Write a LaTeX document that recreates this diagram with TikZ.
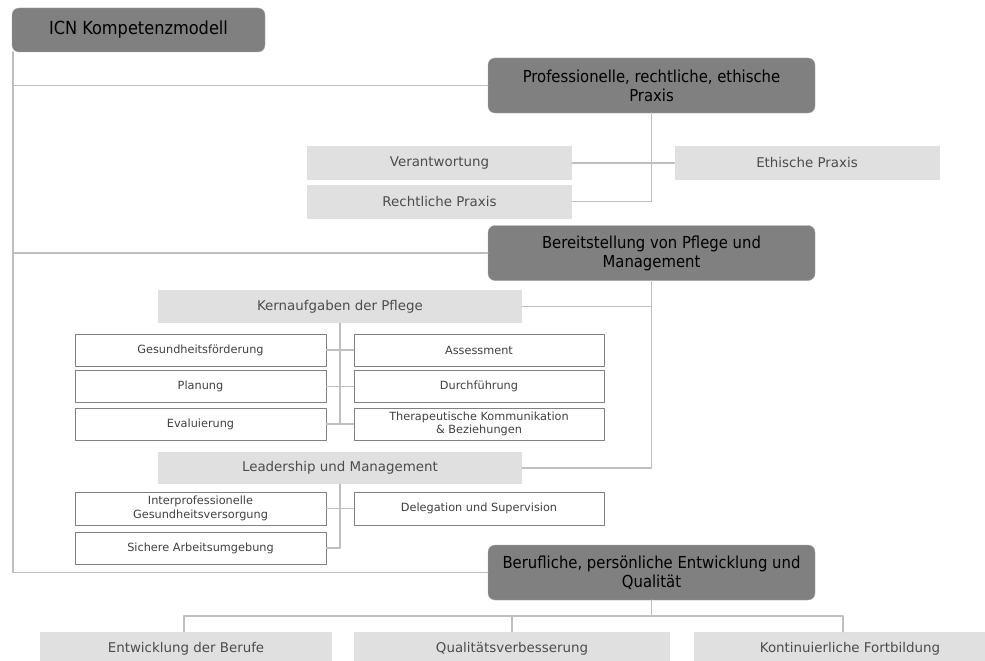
\documentclass[tikz,border=0pt]{standalone}
\usepackage{fontspec}
\setmainfont{DejaVu Sans}
\newfontfamily\condfont{DejaVu Sans Condensed}
\usetikzlibrary{positioning}

\tikzset{
  darkbox/.style={draw=black!35, fill=black!50, rounded corners=7pt, text=black,
    align=center, inner sep=2pt, minimum width=327pt, minimum height=55pt,
    font=\condfont\fontsize{16.5}{19}\selectfont},
  lightbox/.style={fill=black!12, text=black!70, inner sep=1pt,
    minimum width=265pt, minimum height=34pt, font=\fontsize{13.4}{15}\selectfont},
  whitebox/.style={draw=black!50, fill=white, text=black!75, align=center,
    inner sep=1pt, line width=0.9pt, minimum width=251pt, minimum height=32pt,
    font=\fontsize{11.3}{13.5}\selectfont},
  link/.style={draw=black!25, line width=1.6pt}
}

\begin{document}
\begin{tikzpicture}[x=1pt, y=-1pt, line cap=round, line join=round]
  \useasboundingbox (0,0) rectangle (985,661);

  % main branches
  \node[darkbox, minimum width=253pt, minimum height=44pt,
    font=\condfont\fontsize{18}{20}\selectfont] (icn) at (138.5,30) {ICN Kompetenzmodell};
  \node[darkbox] (prof) at (651.5,85.5) {Professionelle, rechtliche, ethische\\Praxis};
  \node[darkbox] (bereit) at (651.5,253) {Bereitstellung von Pflege und\\Management};
  \node[darkbox] (beruf) at (651.5,572.5) {Berufliche, persönliche Entwicklung und\\Qualität};

  \draw[link] ([xshift=1pt]icn.south west) |- (prof.west);
  \draw[link] ([xshift=1pt]icn.south west) |- (bereit.west);
  \draw[link] ([xshift=1pt]icn.south west) |- (beruf.west);

  % professionelle Praxis
  \node[lightbox] (verant) at (439.5,163) {Verantwortung};
  \node[lightbox] (recht) at (439.5,201.5) {Rechtliche Praxis};
  \node[lightbox] (ethik) at (807,163) {Ethische Praxis};
  \draw[link] (prof.south) |- (recht.east);
  \draw[link] (verant.east) -- (ethik.west);

  % Pflege und Management
  \node[lightbox, minimum width=364pt, minimum height=33pt] (kern) at (340,306.5) {Kernaufgaben der Pflege};
  \node[lightbox, minimum width=364pt, minimum height=32pt] (lead) at (340,468) {Leadership und Management};
  \draw[link] (bereit.south) |- (lead.east);
  \draw[link] (kern.east) -- (kern.east -| bereit.south);

  \node[whitebox] (gesund) at (200.5,350) {Gesundheitsförderung};
  \node[whitebox] (plan) at (200.5,386.5) {Planung};
  \node[whitebox] (eval) at (200.5,424) {Evaluierung};
  \node[whitebox, minimum width=250pt] (assess) at (479,350) {Assessment};
  \node[whitebox, minimum width=250pt] (durch) at (479,386.5) {Durchführung};
  \node[whitebox, minimum width=250pt] (thera) at (479,424) {Therapeutische Kommunikation\\\& Beziehungen};
  \draw[link] (kern.south) |- (eval.east);
  \draw[link] (gesund.east) -- (assess.west);
  \draw[link] (plan.east) -- (durch.west);
  \draw[link] (eval.east) -- (thera.west);

  \node[whitebox, minimum height=33pt] (inter) at (200.5,508.5) {Interprofessionelle\\Gesundheitsversorgung};
  \node[whitebox, minimum width=250pt, minimum height=33pt] (deleg) at (479,508.5) {Delegation und Supervision};
  \node[whitebox] (sicher) at (200.5,548) {Sichere Arbeitsumgebung};
  \draw[link] (lead.south) |- (sicher.east);
  \draw[link] (inter.east) -- (deleg.west);

  % Entwicklung und Qualitaet
  \node[lightbox, minimum width=292pt] (entw) at (186,649) {Entwicklung der Berufe};
  \node[lightbox, minimum width=316pt] (quali) at (512,649) {Qualitätsverbesserung};
  \node[lightbox, minimum width=312pt] (fortb) at (850,649) {Kontinuierliche Fortbildung};
  \coordinate (bus) at (651.5,616);
  \draw[link] (beruf.south) -- (bus);
  \draw[link] ([xshift=-2pt]entw.north) |- (bus) -| ([xshift=-7pt]fortb.north);
  \draw[link] (quali.north) -- (quali.north |- bus);
\end{tikzpicture}
\end{document}
